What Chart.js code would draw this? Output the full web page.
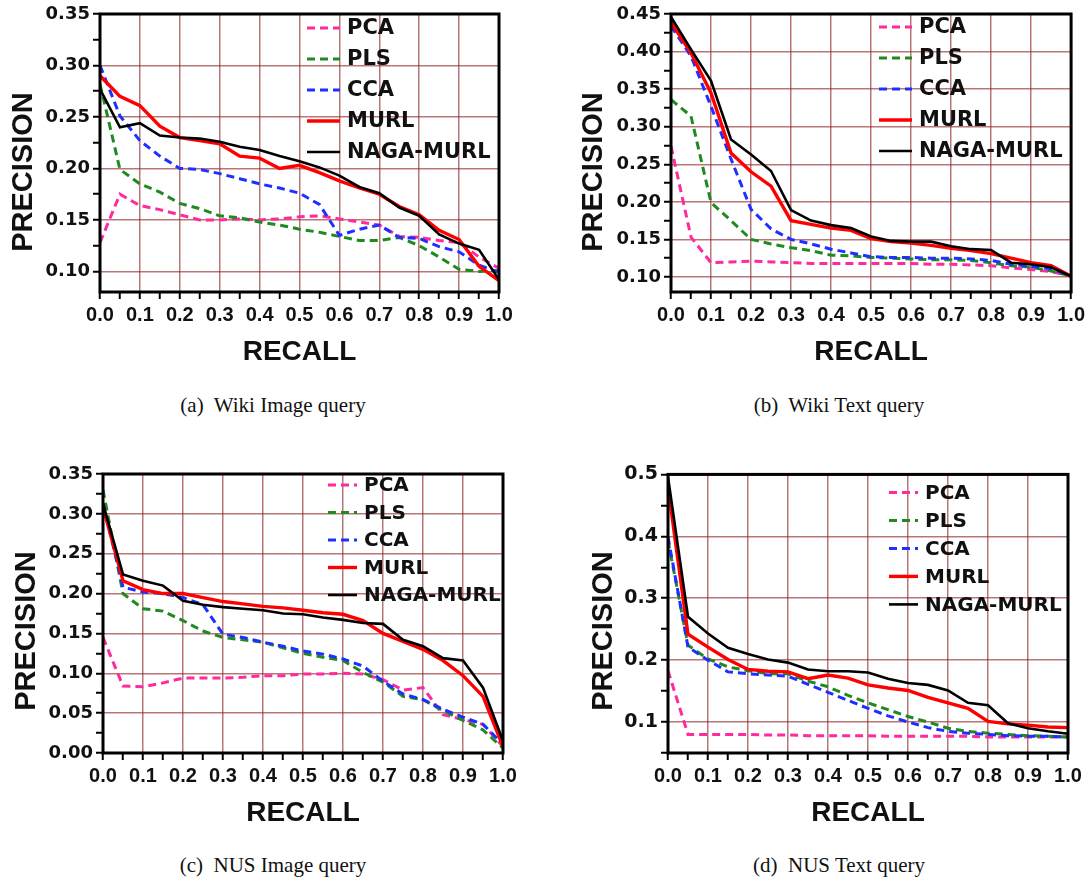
<!DOCTYPE html>
<html>
<head>
<meta charset="utf-8">
<script src="https://cdn.jsdelivr.net/npm/chart.js@4.4.1/dist/chart.umd.min.js"></script>
<style>
  body { margin: 0; background: #fff; }
  #page { position: relative; width: 1091px; height: 882px; overflow: hidden; background: #fff; }
  canvas { position: absolute; }
  .ylab {
    position: absolute; width: 220px; height: 34px; line-height: 34px; text-align: center;
    font: bold 29px "Liberation Sans", Arial, sans-serif; color: #111; transform: rotate(-90deg);
  }
  .cap {
    position: absolute; width: 320px; height: 24px; line-height: 24px; text-align: center;
    font: 21px "Liberation Serif", "Times New Roman", serif; color: #111; white-space: pre;
  }
</style>
</head>
<body>
<div id="page">
  <canvas id="cA" width="529" height="372" style="left:0;top:0"></canvas>
  <canvas id="cB" width="529" height="372" style="left:560px;top:0"></canvas>
  <canvas id="cC" width="533" height="373" style="left:0;top:460px"></canvas>
  <canvas id="cD" width="528" height="373" style="left:560px;top:460px"></canvas>

  <div class="ylab" style="left:-87px;top:155px">PRECISION</div>
  <div class="ylab" style="left:483px;top:155px">PRECISION</div>
  <div class="ylab" style="left:-84px;top:614px">PRECISION</div>
  <div class="ylab" style="left:493px;top:614px">PRECISION</div>

  <div class="cap" style="left:113px;top:393px">(a)  Wiki Image query</div>
  <div class="cap" style="left:679px;top:393px">(b)  Wiki Text query</div>
  <div class="cap" style="left:113px;top:853px">(c)  NUS Image query</div>
  <div class="cap" style="left:679px;top:853px">(d)  NUS Text query</div>
</div>
<script>
// ---- data -------------------------------------------------------------
const methods = ['PCA', 'PLS', 'CCA', 'MURL', 'NAGA-MURL'];
const recall  = [0, 0.05, 0.1, 0.15, 0.2, 0.25, 0.3, 0.35, 0.4, 0.45, 0.5,
                 0.55, 0.6, 0.65, 0.7, 0.75, 0.8, 0.85, 0.9, 0.95, 1.0];

const xMajor = [0, 0.1, 0.2, 0.3, 0.4, 0.5, 0.6, 0.7, 0.8, 0.9, 1.0];
const xMinor = [0.05, 0.15, 0.25, 0.35, 0.45, 0.55, 0.65, 0.75, 0.85, 0.95];

// (a) Wiki Image query
const wikiImgPCA  = [0.128, 0.175, 0.164, 0.160, 0.155, 0.150, 0.150, 0.151, 0.150, 0.151, 0.153, 0.154, 0.151, 0.148, 0.145, 0.134, 0.133, 0.130, 0.128, 0.114, 0.103];
const wikiImgPLS  = [0.282, 0.199, 0.185, 0.177, 0.166, 0.161, 0.154, 0.152, 0.148, 0.145, 0.141, 0.138, 0.134, 0.130, 0.130, 0.133, 0.125, 0.114, 0.102, 0.100, 0.101];
const wikiImgCCA  = [0.300, 0.251, 0.227, 0.212, 0.200, 0.199, 0.195, 0.190, 0.185, 0.181, 0.176, 0.165, 0.135, 0.141, 0.145, 0.133, 0.132, 0.124, 0.119, 0.106, 0.099];
const wikiImgMURL = [0.290, 0.270, 0.261, 0.241, 0.230, 0.227, 0.224, 0.212, 0.210, 0.200, 0.203, 0.196, 0.188, 0.181, 0.175, 0.163, 0.155, 0.140, 0.131, 0.105, 0.091];
const wikiImgNAGA = [0.277, 0.240, 0.244, 0.232, 0.230, 0.229, 0.226, 0.221, 0.218, 0.212, 0.207, 0.201, 0.193, 0.182, 0.176, 0.162, 0.154, 0.136, 0.127, 0.121, 0.092];

// (b) Wiki Text query
const wikiTxtPCA  = [0.274, 0.153, 0.119, 0.120, 0.121, 0.120, 0.119, 0.118, 0.118, 0.118, 0.118, 0.118, 0.118, 0.117, 0.117, 0.116, 0.115, 0.112, 0.110, 0.107, 0.101];
const wikiTxtPLS  = [0.336, 0.314, 0.199, 0.175, 0.150, 0.144, 0.139, 0.135, 0.129, 0.128, 0.126, 0.125, 0.124, 0.123, 0.123, 0.122, 0.119, 0.115, 0.113, 0.108, 0.101];
const wikiTxtCCA  = [0.434, 0.394, 0.327, 0.257, 0.190, 0.164, 0.150, 0.144, 0.137, 0.132, 0.127, 0.126, 0.126, 0.125, 0.125, 0.124, 0.122, 0.117, 0.114, 0.111, 0.101];
const wikiTxtMURL = [0.439, 0.398, 0.345, 0.265, 0.240, 0.221, 0.175, 0.170, 0.165, 0.162, 0.151, 0.147, 0.145, 0.142, 0.138, 0.135, 0.131, 0.125, 0.119, 0.115, 0.101];
const wikiTxtNAGA = [0.446, 0.403, 0.361, 0.283, 0.263, 0.241, 0.189, 0.175, 0.169, 0.165, 0.154, 0.148, 0.147, 0.147, 0.141, 0.137, 0.136, 0.119, 0.117, 0.113, 0.101];

// (c) NUS Image query
const nusImgPCA  = [0.145, 0.084, 0.083, 0.088, 0.094, 0.094, 0.094, 0.095, 0.097, 0.097, 0.099, 0.099, 0.100, 0.099, 0.092, 0.079, 0.082, 0.048, 0.042, 0.036, 0.008];
const nusImgPLS  = [0.330, 0.200, 0.181, 0.178, 0.166, 0.153, 0.145, 0.142, 0.139, 0.132, 0.125, 0.120, 0.116, 0.101, 0.089, 0.071, 0.067, 0.053, 0.041, 0.029, 0.006];
const nusImgCCA  = [0.313, 0.208, 0.202, 0.200, 0.195, 0.186, 0.149, 0.145, 0.139, 0.134, 0.128, 0.124, 0.118, 0.109, 0.090, 0.074, 0.067, 0.055, 0.045, 0.036, 0.011];
const nusImgMURL = [0.309, 0.216, 0.205, 0.200, 0.200, 0.195, 0.190, 0.187, 0.184, 0.182, 0.179, 0.176, 0.174, 0.166, 0.150, 0.140, 0.130, 0.116, 0.097, 0.071, 0.008];
const nusImgNAGA = [0.313, 0.224, 0.216, 0.210, 0.191, 0.186, 0.183, 0.181, 0.179, 0.175, 0.174, 0.170, 0.167, 0.163, 0.162, 0.142, 0.134, 0.119, 0.116, 0.082, 0.015];

// (d) NUS Text query
const nusTxtPCA  = [0.183, 0.080, 0.080, 0.080, 0.080, 0.079, 0.079, 0.078, 0.078, 0.078, 0.078, 0.077, 0.077, 0.077, 0.077, 0.077, 0.076, 0.076, 0.076, 0.076, 0.076];
const nusTxtPLS  = [0.393, 0.224, 0.202, 0.189, 0.183, 0.178, 0.178, 0.166, 0.157, 0.143, 0.131, 0.120, 0.109, 0.100, 0.090, 0.085, 0.082, 0.080, 0.078, 0.077, 0.076];
const nusTxtCCA  = [0.399, 0.221, 0.200, 0.181, 0.178, 0.176, 0.174, 0.161, 0.148, 0.135, 0.122, 0.110, 0.100, 0.091, 0.085, 0.082, 0.080, 0.078, 0.077, 0.077, 0.076];
const nusTxtMURL = [0.480, 0.242, 0.221, 0.201, 0.185, 0.182, 0.181, 0.170, 0.176, 0.171, 0.160, 0.155, 0.151, 0.140, 0.131, 0.122, 0.101, 0.097, 0.095, 0.092, 0.091];
const nusTxtNAGA = [0.496, 0.270, 0.243, 0.220, 0.210, 0.201, 0.196, 0.185, 0.182, 0.182, 0.180, 0.170, 0.163, 0.160, 0.151, 0.131, 0.127, 0.098, 0.090, 0.085, 0.081];

// y tick labels (major) and minor tick marks per panel
const wikiImgYMajor = [0.10, 0.15, 0.20, 0.25, 0.30, 0.35];
const wikiImgYMinor = [0.125, 0.175, 0.225, 0.275, 0.325];
const wikiTxtYMajor = [0.10, 0.15, 0.20, 0.25, 0.30, 0.35, 0.40, 0.45];
const wikiTxtYMinor = [0.125, 0.175, 0.225, 0.275, 0.325, 0.375, 0.425];
const nusImgYMajor  = [0.00, 0.05, 0.10, 0.15, 0.20, 0.25, 0.30, 0.35];
const nusImgYMinor  = [0.025, 0.075, 0.125, 0.175, 0.225, 0.275, 0.325];
const nusTxtYMajor  = [0.1, 0.2, 0.3, 0.4, 0.5];
const nusTxtYMinor  = [0.05, 0.15, 0.25, 0.35, 0.45];

// ---- styling ------------------------------------------------------------
const colors = ['#ff2a9c', '#1f8a1f', '#1f2fff', '#ff0000', '#000000'];
const dashes = [[8, 5], [8, 5], [8, 5], [], []];
const widths = [3, 3, 3, 3.4, 2.6];
const drawOrder = [4, 3, 2, 1, 0];
const SANS = '"Liberation Sans", Arial, sans-serif';
const DEJAVU = '"DejaVu Sans", sans-serif';
const GRID = 'rgba(140, 35, 35, 0.62)';

const key = v => Math.round(v * 1000);

// frame round the plot area
const frame = {
    id: 'frame',
    afterDatasetsDraw(chart) {
        const a = chart.chartArea, c = chart.ctx;
        c.save();
        c.strokeStyle = '#000';
        c.lineWidth = 3;
        c.strokeRect(a.left, a.top, a.right - a.left, a.bottom - a.top);
        c.restore();
    }
};

// legend drawn inside the plot, upper right
const inLegend = {
    id: 'inLegend',
    afterDraw(chart, args, o) {
        const a = chart.chartArea, c = chart.ctx;
        c.save();
        c.font = 'bold ' + o.size + 'px ' + DEJAVU;
        c.textBaseline = 'middle';
        c.fillStyle = '#111';
        chart.data.datasets.forEach((ds, i) => {
            const y = a.top + o.dy + i * o.step;
            const x = a.left + o.dx;
            c.strokeStyle = ds.borderColor;
            c.lineWidth = ds.borderWidth;
            c.setLineDash(ds.borderDash || []);
            c.beginPath(); c.moveTo(x, y); c.lineTo(x + o.len, y); c.stroke();
            c.setLineDash([]);
            c.fillText(ds.label, x + o.len + 7, y + 1);
        });
        c.restore();
    }
};

function build(id, series, p) {
    const yMaj = new Set(p.yMajor.map(key));
    const xMaj = new Set(xMajor.map(key));
    const yTicks = p.yMajor.concat(p.yMinor).sort((a, b) => a - b);
    const xTicks = xMajor.concat(xMinor).sort((a, b) => a - b);

    return new Chart(document.getElementById(id), {
        type: 'line',
        data: {
            datasets: methods.map((m, i) => ({
                label: m,
                data: recall.map((r, j) => ({ x: r, y: series[i][j] })),
                borderColor: colors[i],
                borderWidth: widths[i],
                borderDash: dashes[i],
                pointRadius: 0,
                tension: 0,
                fill: false,
                order: drawOrder[i]
            }))
        },
        plugins: [frame, inLegend],
        options: {
            responsive: false,
            animation: false,
            devicePixelRatio: 1,
            layout: { padding: p.padding },
            plugins: {
                legend: { display: false },
                tooltip: { enabled: false },
                inLegend: p.legend
            },
            scales: {
                x: {
                    type: 'linear', min: 0, max: 1,
                    afterBuildTicks: s => { s.ticks = xTicks.map(v => ({ value: v, major: xMaj.has(key(v)) })); },
                    afterFit: s => { s.height = 80; },
                    ticks: {
                        autoSkip: false, maxRotation: 0, padding: 4, color: '#111',
                        font: { family: SANS, size: 20, weight: 'bold' },
                        callback: v => xMaj.has(key(v)) ? v.toFixed(1) : ''
                    },
                    grid: {
                        color: ctx => ctx.tick && ctx.tick.major ? GRID : 'rgba(0,0,0,0)',
                        lineWidth: 1.5, tickColor: '#000', tickWidth: 2, tickLength: 7
                    },
                    border: { display: false },
                    title: {
                        display: true, text: 'RECALL', color: '#111',
                        font: { family: SANS, size: 28, weight: 'bold' },
                        padding: { top: 0, bottom: 3 }
                    }
                },
                y: {
                    type: 'linear', min: p.yMin, max: p.yMax,
                    afterBuildTicks: s => { s.ticks = yTicks.map(v => ({ value: v, major: yMaj.has(key(v)) })); },
                    afterFit: s => { s.width = p.yWidth; },
                    ticks: {
                        autoSkip: false, padding: 3, color: '#111',
                        font: { family: DEJAVU, size: p.ySize, weight: 'bold' },
                        callback: v => yMaj.has(key(v)) ? v.toFixed(p.yDigits) : ''
                    },
                    grid: {
                        color: ctx => ctx.tick && ctx.tick.major ? GRID : 'rgba(0,0,0,0)',
                        lineWidth: 1.5, tickColor: '#000', tickWidth: 2, tickLength: 7
                    },
                    border: { display: false }
                }
            }
        }
    });
}

build('cA', [wikiImgPCA, wikiImgPLS, wikiImgCCA, wikiImgMURL, wikiImgNAGA], {
    yMin: 0.08, yMax: 0.35, yMajor: wikiImgYMajor, yMinor: wikiImgYMinor, yDigits: 2, ySize: 18,
    yWidth: 100, padding: { top: 14, right: 30, left: 0, bottom: 0 },
    legend: { dx: 207, dy: 14, step: 31, len: 33, size: 21 }
});
build('cB', [wikiTxtPCA, wikiTxtPLS, wikiTxtCCA, wikiTxtMURL, wikiTxtNAGA], {
    yMin: 0.08, yMax: 0.45, yMajor: wikiTxtYMajor, yMinor: wikiTxtYMinor, yDigits: 2, ySize: 18,
    yWidth: 111, padding: { top: 14, right: 16, left: 0, bottom: 0 },
    legend: { dx: 208, dy: 13, step: 31, len: 33, size: 21 }
});
build('cC', [nusImgPCA, nusImgPLS, nusImgCCA, nusImgMURL, nusImgNAGA], {
    yMin: 0, yMax: 0.35, yMajor: nusImgYMajor, yMinor: nusImgYMinor, yDigits: 2, ySize: 18,
    yWidth: 103, padding: { top: 14, right: 30, left: 0, bottom: 0 },
    legend: { dx: 225, dy: 11, step: 27.5, len: 29, size: 20 }
});
build('cD', [nusTxtPCA, nusTxtPLS, nusTxtCCA, nusTxtMURL, nusTxtNAGA], {
    yMin: 0.05, yMax: 0.5, yMajor: nusTxtYMajor, yMinor: nusTxtYMinor, yDigits: 1, ySize: 19,
    yWidth: 108, padding: { top: 14, right: 20, left: 0, bottom: 0 },
    legend: { dx: 221, dy: 18, step: 28, len: 29, size: 20 }
});
</script>
</body>
</html>
